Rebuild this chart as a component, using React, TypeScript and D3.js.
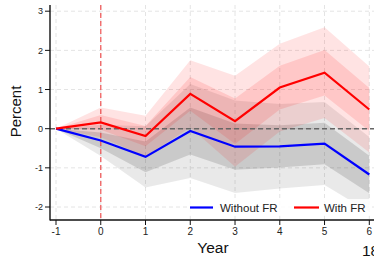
import React from "react";
import * as d3 from "d3";

const years = [-1, 0, 1, 2, 3, 4, 5, 6];
const withoutFR = [0, -0.3, -0.72, -0.06, -0.46, -0.45, -0.38, -1.17];
const withoutFRse = [0, 0.2, 0.39, 0.6, 0.59, 0.54, 0.53, 0.48];
const withFR = [0, 0.16, -0.19, 0.89, 0.19, 1.05, 1.43, 0.49];
const withFRse = [0, 0.19, 0.26, 0.43, 0.58, 0.56, 0.58, 0.55];
const yTicks = [-2, -1, 0, 1, 2, 3];
const xTicks = [-1, 0, 1, 2, 3, 4, 5, 6];
const seriesNames = ["Without FR", "With FR"];

const W = 374;
const H = 256;
const font = "'Liberation Sans', Arial, sans-serif";

export default function App() {
  const x = d3.scaleLinear().domain([-1, 6]).range([56, 369.3]);
  const y = d3.scaleLinear().domain([-2, 3]).range([207, 11.2]);
  const left = 50;
  const bottom = 220;
  const top = 5;

  const line = d3
    .line<number>()
    .x((_, i) => x(years[i]))
    .y((d) => y(d));

  const band = (est: number[], se: number[], k: number) =>
    d3
      .area<number>()
      .x((_, i) => x(years[i]))
      .y0((d, i) => y(d - k * se[i]))
      .y1((d, i) => y(d + k * se[i]))(est) || "";

  return (
    <svg
      width={W}
      height={H}
      style={{ position: "absolute", left: 0, top: 0, background: "#fff" }}
      fontFamily={font}
    >
      <defs>
        <clipPath id="plotclip">
          <rect x={left} y={top} width={W - left} height={bottom - top} />
        </clipPath>
      </defs>
      {/* grid */}
      {yTicks.map((t) => (
        <line
          key={"gy" + t}
          x1={left}
          x2={W}
          y1={y(t)}
          y2={y(t)}
          stroke="#e4e4e4"
          strokeWidth={1}
          strokeDasharray="4,3"
        />
      ))}
      {xTicks.map((t) => (
        <line
          key={"gx" + t}
          x1={x(t)}
          x2={x(t)}
          y1={top}
          y2={bottom}
          stroke="#e4e4e4"
          strokeWidth={1}
          strokeDasharray="4,3"
        />
      ))}
      <g clipPath="url(#plotclip)">
        {/* gray bands */}
        <path d={band(withoutFR, withoutFRse, 2)} fill="rgba(0,0,0,0.085)" />
        <path d={band(withoutFR, withoutFRse, 1)} fill="rgba(0,0,0,0.13)" />
        {/* red bands */}
        <path d={band(withFR, withFRse, 2)} fill="rgba(255,0,0,0.11)" />
        <path d={band(withFR, withFRse, 1)} fill="rgba(255,0,0,0.12)" />
      </g>
      {/* reference lines */}
      <line
        x1={left}
        x2={W}
        y1={y(0)}
        y2={y(0)}
        stroke="#666"
        strokeWidth={1.6}
        strokeDasharray="5,3"
      />
      <line
        x1={x(0)}
        x2={x(0)}
        y1={top}
        y2={bottom}
        stroke="#ee4444"
        strokeOpacity={0.85}
        strokeWidth={1.3}
        strokeDasharray="5,3"
      />
      {/* series lines */}
      <path d={line(withoutFR) || ""} fill="none" stroke="#0000ff" strokeWidth={2.2} strokeLinejoin="miter" />
      <path d={line(withFR) || ""} fill="none" stroke="#ff0000" strokeWidth={2.2} strokeLinejoin="miter" />
      {/* legend */}
      <rect x={188} y={199} width={184} height={17} fill="#fff" fillOpacity={0.85} />
      <line x1={190} x2={213} y1={207.5} y2={207.5} stroke="#0000ff" strokeWidth={2.2} />
      <text x={220} y={211.5} fontSize={11.5} fill="#222">
        {seriesNames[0]}
      </text>
      <line x1={294} x2={319} y1={207.5} y2={207.5} stroke="#ff0000" strokeWidth={2.2} />
      <text x={324} y={211.5} fontSize={11.5} fill="#222">
        {seriesNames[1]}
      </text>
      {/* axes */}
      <line x1={left} x2={left} y1={top} y2={bottom + 0.5} stroke="#111" strokeWidth={1.4} />
      <line x1={left} x2={W} y1={bottom} y2={bottom} stroke="#111" strokeWidth={1.4} />
      {yTicks.map((t) => (
        <g key={"ty" + t}>
          <line x1={left - 5} x2={left} y1={y(t)} y2={y(t)} stroke="#111" strokeWidth={1} />
          <text x={left - 7} y={y(t) + 3.2} fontSize={9} textAnchor="end" fill="#222">
            {t}
          </text>
        </g>
      ))}
      {xTicks.map((t) => (
        <g key={"tx" + t}>
          <line x1={x(t)} x2={x(t)} y1={bottom} y2={bottom + 5} stroke="#111" strokeWidth={1} />
          <text x={x(t)} y={235} fontSize={10} textAnchor="middle" fill="#222">
            {t}
          </text>
        </g>
      ))}
      <text x={213} y={252.5} fontSize={15.5} textAnchor="middle" fill="#111">
        Year
      </text>
      <text
        transform="translate(21,111.5) rotate(-90)"
        fontSize={15}
        textAnchor="middle"
        fill="#111"
      >
        Percent
      </text>
      <text x={362} y={256} fontSize={15.5} fill="#111">
        18
      </text>
    </svg>
  );
}
